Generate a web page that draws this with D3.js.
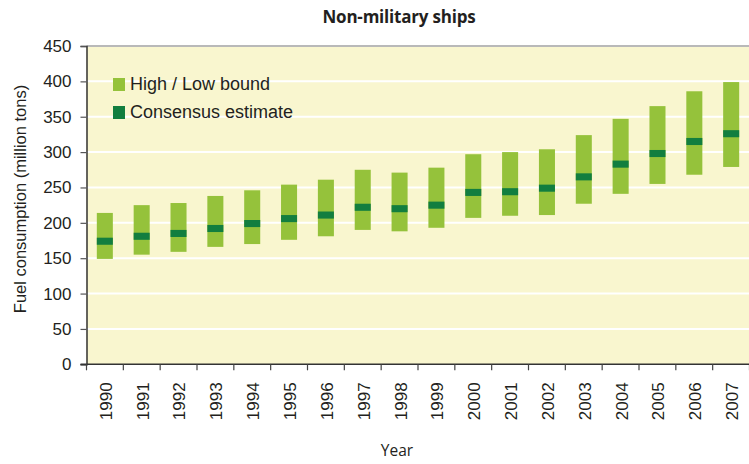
<!DOCTYPE html>
<html>
<head>
<meta charset="utf-8">
<script src="https://cdn.jsdelivr.net/npm/d3@7"></script>
<style>
  html, body { margin: 0; padding: 0; background: #ffffff; }
  svg { display: block; }
</style>
</head>
<body>
<svg id="chart" width="749" height="464"></svg>
<script>
const years = ["1990","1991","1992","1993","1994","1995","1996","1997","1998","1999","2000","2001","2002","2003","2004","2005","2006","2007"];
const highBound = [214, 225, 228, 238, 246, 254, 261, 275, 271, 278, 297, 300, 304, 324, 347, 365, 386, 399];
const lowBound  = [149, 155, 159, 166, 170, 176, 181, 190, 188, 193, 207, 210, 211, 227, 241, 255, 268, 279];
const consensus = [174, 181, 185, 192, 199, 206, 211, 222, 220, 225, 243, 244, 249, 265, 283, 298, 315, 326];
const yTicks = [0, 50, 100, 150, 200, 250, 300, 350, 400, 450];
const legendLabels = ["High / Low bound", "Consensus estimate"];

const data = years.map((yr, i) => ({ year: yr, hi: highBound[i], lo: lowBound[i], c: consensus[i] }));

const svg = d3.select("#chart");
const pLeft = 86.5, pRight = 749.5, pTop = 46, pBottom = 364.3;
const colLight = "#95c23b", colDark = "#127e3f", bg = "#f9f6cf";
const tickFont = "'Liberation Sans', Arial, sans-serif";

const x = d3.scaleBand().domain(years).range([pLeft, pRight]).paddingInner(0.565).paddingOuter(0.28);
const xTickScale = d3.scalePoint().domain(d3.range(years.length + 1)).range([pLeft, pRight]);
const y = d3.scaleLinear().domain([0, 450]).range([pBottom, pTop]);

// background
svg.append("rect").attr("x", pLeft).attr("y", pTop).attr("width", pRight - pLeft).attr("height", pBottom - pTop).attr("fill", bg);

// grid lines
svg.append("g").selectAll("line").data(yTicks.filter(t => t > 0 && t < 450)).join("line")
  .attr("x1", pLeft).attr("x2", pRight)
  .attr("y1", d => y(d)).attr("y2", d => y(d))
  .attr("stroke", "#ffffff").attr("stroke-width", 2);

// top border
svg.append("line").attr("x1", pLeft).attr("x2", pRight).attr("y1", pTop).attr("y2", pTop)
  .attr("stroke", "#b9b9b9").attr("stroke-width", 2);

// bars
const bars = svg.append("g");
bars.selectAll("rect.hl").data(data).join("rect").attr("class", "hl")
  .attr("x", d => x(d.year)).attr("width", x.bandwidth())
  .attr("y", d => y(d.hi)).attr("height", d => y(d.lo) - y(d.hi))
  .attr("fill", colLight);
bars.selectAll("rect.c").data(data).join("rect").attr("class", "c")
  .attr("x", d => x(d.year)).attr("width", x.bandwidth())
  .attr("y", d => y(d.c + 5)).attr("height", d => y(d.c - 5) - y(d.c + 5))
  .attr("fill", colDark);

// y axis
const yAxis = svg.append("g").attr("transform", `translate(${pLeft},0)`)
  .call(d3.axisLeft(y).tickValues(yTicks).tickSize(6).tickPadding(9));
yAxis.select(".domain").attr("stroke", "#333").attr("stroke-width", 1.5);
yAxis.selectAll(".tick line").attr("stroke", "#555").attr("stroke-width", 1.2);
yAxis.selectAll(".tick text").attr("font-family", tickFont).attr("font-size", 17).attr("fill", "#231f20");

// x axis
const xAxisG = svg.append("g").attr("transform", `translate(0,${pBottom})`);
xAxisG.append("line").attr("x1", pLeft - 6).attr("x2", pRight).attr("y1", 0).attr("y2", 0)
  .attr("stroke", "#333").attr("stroke-width", 1.5);
xAxisG.selectAll("line.tk").data(d3.range(years.length + 1)).join("line").attr("class", "tk")
  .attr("x1", d => xTickScale(d)).attr("x2", d => xTickScale(d))
  .attr("y1", 0).attr("y2", 6).attr("stroke", "#444").attr("stroke-width", 1.2);
xAxisG.selectAll("text").data(years).join("text")
  .attr("transform", d => `translate(${x(d) + x.bandwidth() / 2 + 1},18) rotate(-90)`)
  .attr("text-anchor", "end").attr("dy", "0.35em")
  .attr("font-family", tickFont).attr("font-size", 17).attr("fill", "#231f20")
  .text(d => d);

// title
svg.append("text").attr("x", 399).attr("y", 23).attr("text-anchor", "middle")
  .attr("font-family", "'Open Sans', sans-serif").attr("font-weight", 700).attr("font-size", 17)
  .attr("fill", "#231f20").attr("letter-spacing", -0.2).text("Non-military ships");

// axis titles
svg.append("text").attr("x", 397).attr("y", 456).attr("text-anchor", "middle")
  .attr("font-family", "'Open Sans', sans-serif").attr("font-size", 15.5)
  .attr("fill", "#231f20").text("Year");
svg.append("text").attr("transform", "translate(26,199) rotate(-90)").attr("text-anchor", "middle")
  .attr("font-family", tickFont).attr("font-size", 16.5)
  .attr("fill", "#231f20").text("Fuel consumption (million tons)");

// legend
const legend = svg.append("g");
const legColors = [colLight, colDark];
legend.selectAll("rect").data(legendLabels).join("rect")
  .attr("x", 113).attr("y", (d, i) => 78 + i * 28).attr("width", 12).attr("height", 13)
  .attr("fill", (d, i) => legColors[i]);
legend.selectAll("text").data(legendLabels).join("text")
  .attr("x", 130).attr("y", (d, i) => 89.5 + i * 28)
  .attr("font-family", tickFont).attr("font-size", 18).attr("fill", "#231f20")
  .text(d => d);
</script>
</body>
</html>
